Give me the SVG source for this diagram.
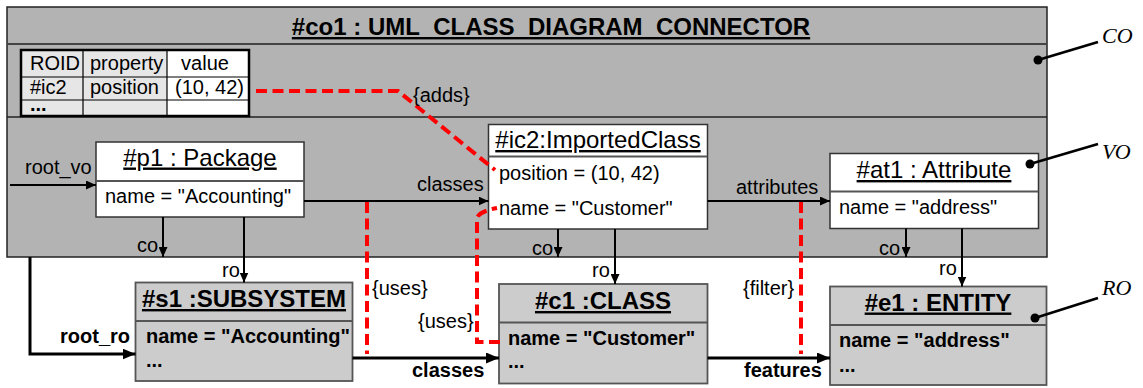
<svg xmlns="http://www.w3.org/2000/svg" width="1143" height="388" viewBox="0 0 1143 388">
  <defs>
    <marker id="arr" markerUnits="userSpaceOnUse" markerWidth="11" markerHeight="9" refX="10" refY="4.5" orient="auto">
      <path d="M0,0 L10,4.5 L0,9 z" fill="#000"/>
    </marker>
    <marker id="arrBig" markerUnits="userSpaceOnUse" markerWidth="14" markerHeight="11" refX="13" refY="5.5" orient="auto">
      <path d="M0,0 L13,5.5 L0,11 z" fill="#000"/>
    </marker>
    <style>
      text { font-family: "Liberation Sans", Arial, sans-serif; fill: #000; }
      .lbl { font-size: 20px; }
      .lblb { font-size: 20px; font-weight: bold; }
      .hdr { font-size: 24px; text-anchor: middle; text-decoration: underline; }
      .hdrb { font-size: 24px; font-weight: bold; text-anchor: middle; text-decoration: underline; }
      .attr { font-size: 20px; }
      .attrb { font-size: 20px; font-weight: bold; }
      .call { font-family: "Liberation Serif", "Times New Roman", serif; font-style: italic; font-size: 22px; }
      .vo { fill: #fff; stroke: #333; stroke-width: 1.5; }
      .ro { fill: #cccccc; stroke: #555; stroke-width: 1.8; }
      .sep { stroke: #555; stroke-width: 2; }
      .thin { fill: none; stroke: #000; stroke-width: 2; }
      .thick { fill: none; stroke: #000; stroke-width: 3; }
      .dash { fill: none; stroke: #ff0000; stroke-width: 4; stroke-dasharray: 11 5.5; }
      .cell { stroke: #000; stroke-width: 1.2; }
    </style>
  </defs>

  <!-- connector object frame -->
  <g id="co1">
    <rect x="7" y="7" width="1040" height="250" fill="#b3b3b3" stroke="#222" stroke-width="1.5"/>
    <line x1="7" y1="44" x2="1047" y2="44" stroke="#444" stroke-width="2"/>
    <line x1="7" y1="117" x2="1047" y2="117" stroke="#222" stroke-width="1.5"/>
    <text x="551" y="35" class="hdrb">#co1 : UML_CLASS_DIAGRAM_CONNECTOR</text>
  </g>

  <!-- ROID / property / value table -->
  <g id="table">
    <rect x="21" y="50" width="146" height="66" fill="#e6e6e6"/>
    <rect x="167" y="50" width="82" height="66" fill="#fff"/>
    <line x1="83" y1="50" x2="83" y2="116" class="cell"/>
    <line x1="167" y1="50" x2="167" y2="116" class="cell"/>
    <line x1="21" y1="77" x2="249" y2="77" class="cell"/>
    <line x1="21" y1="100" x2="249" y2="100" class="cell"/>
    <rect x="21" y="50" width="228" height="66" fill="none" stroke="#000" stroke-width="2.5"/>
    <text x="30" y="70" class="attr">ROID</text>
    <text x="90" y="70" class="attr">property</text>
    <text x="205" y="70" class="attr" text-anchor="middle">value</text>
    <text x="30" y="94" class="attr">#ic2</text>
    <text x="90" y="94" class="attr">position</text>
    <text x="175" y="94" class="attr">(10, 42)</text>
    <text x="30" y="111" class="attrb">...</text>
  </g>

  <!-- view objects -->
  <g id="p1">
    <rect x="96" y="142" width="208" height="75" class="vo"/>
    <line x1="96" y1="181" x2="304" y2="181" class="sep"/>
    <text x="200" y="165.5" class="hdr">#p1 : Package</text>
    <text x="105" y="203" class="attr">name = "Accounting"</text>
  </g>
  <g id="ic2">
    <rect x="488.5" y="124.5" width="219" height="104.5" class="vo"/>
    <line x1="488.5" y1="156.5" x2="707.5" y2="156.5" class="sep"/>
    <text x="598" y="148" class="hdr">#ic2:ImportedClass</text>
    <text x="499" y="180" class="attr">position = (10, 42)</text>
    <text x="499" y="215" class="attr">name = "Customer"</text>
  </g>
  <g id="at1">
    <rect x="830" y="153.5" width="208.5" height="75" class="vo"/>
    <line x1="830" y1="191.5" x2="1038.5" y2="191.5" class="sep"/>
    <text x="934" y="178" class="hdr">#at1 : Attribute</text>
    <text x="839" y="214" class="attr">name = "address"</text>
  </g>

  <!-- repository objects -->
  <g id="s1">
    <rect x="135.5" y="282.5" width="217" height="98.5" class="ro"/>
    <line x1="135.5" y1="321" x2="352.5" y2="321" class="sep"/>
    <text x="244" y="307" class="hdrb">#s1 :SUBSYSTEM</text>
    <text x="146" y="343" class="attrb">name = "Accounting"</text>
    <text x="146" y="367" class="attrb">...</text>
  </g>
  <g id="c1">
    <rect x="499" y="284" width="208.5" height="99.5" class="ro"/>
    <line x1="499" y1="322.5" x2="707.5" y2="322.5" class="sep"/>
    <text x="603" y="309" class="hdrb">#c1 :CLASS</text>
    <text x="508" y="345" class="attrb">name = "Customer"</text>
    <text x="508" y="368" class="attrb">...</text>
  </g>
  <g id="e1">
    <rect x="830" y="286.5" width="216.5" height="98.5" class="ro"/>
    <line x1="830" y1="325" x2="1046.5" y2="325" class="sep"/>
    <text x="938" y="310.5" class="hdrb">#e1 : ENTITY</text>
    <text x="839" y="346.5" class="attrb">name = "address"</text>
    <text x="839" y="371.5" class="attrb">...</text>
  </g>

  <!-- connectors -->
  <g id="connectors">
    <path d="M10,185 H96" class="thin" marker-end="url(#arr)"/>
    <path d="M304,201 H488.5" class="thin" marker-end="url(#arr)"/>
    <path d="M707.5,201 H830" class="thin" marker-end="url(#arr)"/>
    <path d="M163,217 V257" class="thin" marker-end="url(#arr)"/>
    <path d="M244,217 V282.5" class="thin" marker-end="url(#arr)"/>
    <path d="M558,229 V257" class="thin" marker-end="url(#arr)"/>
    <path d="M615,229 V284" class="thin" marker-end="url(#arr)"/>
    <path d="M906,228.5 V257" class="thin" marker-end="url(#arr)"/>
    <path d="M962,228.5 V286.5" class="thin" marker-end="url(#arr)"/>
    <path d="M30,257 V354 H135.5" class="thick" marker-end="url(#arrBig)"/>
    <path d="M352.5,358 H499" class="thick" marker-end="url(#arrBig)"/>
    <path d="M707.5,358 H830" class="thick" marker-end="url(#arrBig)"/>

    <path d="M256,91 H398 L495,170" class="dash"/>
    <path d="M367,202 V354" class="dash"/>
    <path d="M500,342 H477 V219 Q477,212 497,208" class="dash"/>
    <path d="M801,202 V354" class="dash"/>

    <text x="25" y="174" class="lbl">root_vo</text>
    <text x="417" y="191" class="lbl">classes</text>
    <text x="736" y="194" class="lbl">attributes</text>
    <text x="137" y="252" class="lbl">co</text>
    <text x="532" y="255" class="lbl">co</text>
    <text x="879" y="255" class="lbl">co</text>
    <text x="222" y="277" class="lbl">ro</text>
    <text x="592" y="277" class="lbl">ro</text>
    <text x="939" y="275" class="lbl">ro</text>
    <text x="60" y="343" class="lblb">root_ro</text>
    <text x="412" y="377" class="lblb">classes</text>
    <text x="744" y="377" class="lblb">features</text>
    <text x="413" y="102" class="lbl">{adds}</text>
    <text x="372" y="295" class="lbl">{uses}</text>
    <text x="418" y="328" class="lbl">{uses}</text>
    <text x="743" y="295" class="lbl">{filter}</text>
  </g>

  <!-- layer callouts -->
  <g id="callouts">
    <line x1="1038" y1="60" x2="1098" y2="42" stroke="#000" stroke-width="2.7"/>
    <circle cx="1038" cy="60" r="4.5" fill="#000"/>
    <text x="1102" y="43" class="call">CO</text>
    <line x1="1030" y1="164" x2="1098" y2="144" stroke="#000" stroke-width="2.7"/>
    <circle cx="1030" cy="164" r="4.5" fill="#000"/>
    <text x="1102" y="159" class="call">VO</text>
    <line x1="1035" y1="318" x2="1098" y2="298" stroke="#000" stroke-width="2.7"/>
    <circle cx="1035" cy="318" r="4.5" fill="#000"/>
    <text x="1102" y="295" class="call">RO</text>
  </g>
</svg>
